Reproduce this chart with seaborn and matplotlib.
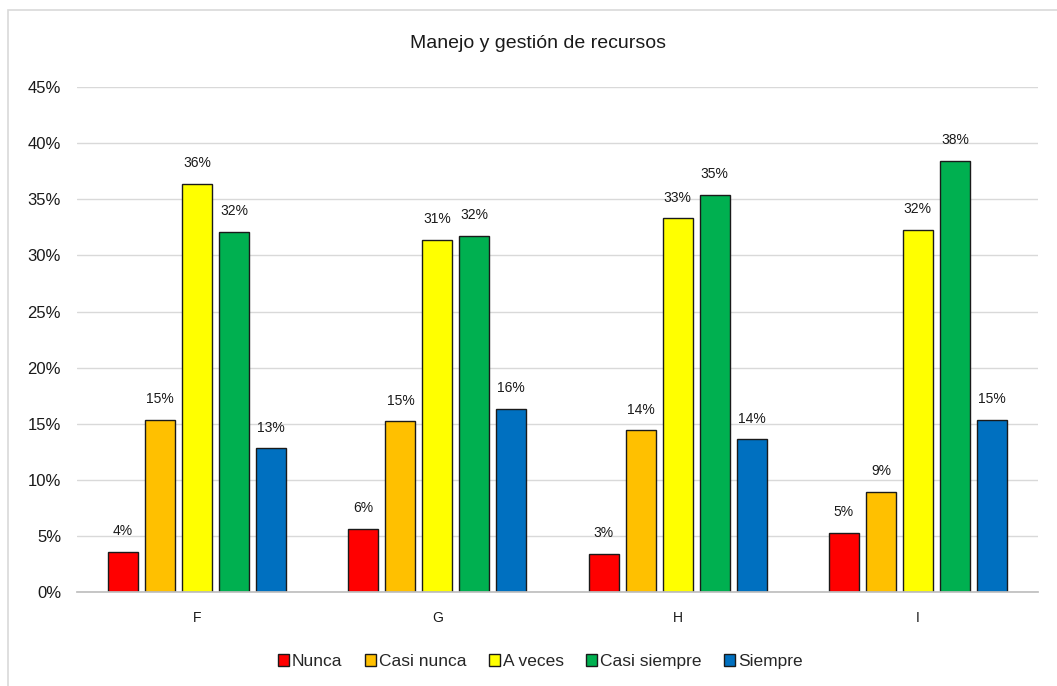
import matplotlib
matplotlib.use("Agg")
import matplotlib.pyplot as plt
import seaborn as sns
import pandas as pd
from matplotlib.patches import Rectangle
from matplotlib.ticker import PercentFormatter

categories = ["F", "G", "H", "I"]
series = ["Nunca", "Casi nunca", "A veces", "Casi siempre", "Siempre"]
nunca = [3.6, 5.6, 3.4, 5.3]
casi_nunca = [15.3, 15.2, 14.4, 8.9]
a_veces = [36.4, 31.4, 33.3, 32.3]
casi_siempre = [32.1, 31.7, 35.4, 38.4]
siempre = [12.8, 16.3, 13.6, 15.3]
colors = ["#FF0000", "#FFC000", "#FFFF00", "#00B050", "#0070C0"]

values = [nunca, casi_nunca, a_veces, casi_siempre, siempre]
rows = []
for s, vals in zip(series, values):
    for c, v in zip(categories, vals):
        rows.append({"cat": c, "serie": s, "val": v / 100})
df = pd.DataFrame(rows)

sns.set_theme(style="white")
plt.rcParams["font.family"] = ["Liberation Sans", "DejaVu Sans"]

fig = plt.figure(figsize=(10.57, 6.86), dpi=100)
ax = fig.add_axes([77 / 1057, 0.137, 961 / 1057, 0.736])

sns.barplot(data=df, x="cat", y="val", hue="serie", order=categories,
            hue_order=series, palette=colors, width=0.77, gap=0.19,
            edgecolor="#1a1a1a", linewidth=1.0, ax=ax, errorbar=None,
            saturation=1)

for cont in ax.containers:
    ax.bar_label(cont, labels=[f"{round(b.get_height()*100):.0f}%" for b in cont],
                 padding=10, fontsize=10, color="#1a1a1a")

ax.set_ylim(0, 0.45)
ax.set_yticks([i * 0.05 for i in range(10)])
ax.yaxis.set_major_formatter(PercentFormatter(1.0, decimals=0))
ax.grid(axis="y", color="#d9d9d9", linewidth=1)
ax.set_axisbelow(True)
for sp in ["top", "right", "left"]:
    ax.spines[sp].set_visible(False)
ax.spines["bottom"].set_color("#bfbfbf")
ax.spines["bottom"].set_zorder(5)
ax.tick_params(axis="y", labelsize=12, length=0, pad=11.5, colors="#1a1a1a")
ax.tick_params(axis="x", labelsize=10, length=0, pad=14, colors="#1a1a1a")
ax.set_xlabel("")
ax.set_ylabel("")

fig.text(0.509, 0.937, "Manejo y gestión de recursos", ha="center", va="center",
         fontsize=14, color="#1a1a1a")

leg = ax.legend(loc="center", bbox_to_anchor=(0.511, 0.036), bbox_transform=fig.transFigure,
                ncol=5, frameon=False, fontsize=12.5, handlelength=0.65, handleheight=0.65,
                handletextpad=0.15, columnspacing=1.3)
for h in leg.legend_handles:
    h.set_edgecolor("#1a1a1a")
    h.set_linewidth(1.0)

fig.patches.append(Rectangle((8 / 1057, -0.05), 1.0, 1.05 - 10 / 686, transform=fig.transFigure,
                             fill=False, edgecolor="#d9d9d9", linewidth=1.2))

fig.savefig("out.png", dpi=100, facecolor="white")
